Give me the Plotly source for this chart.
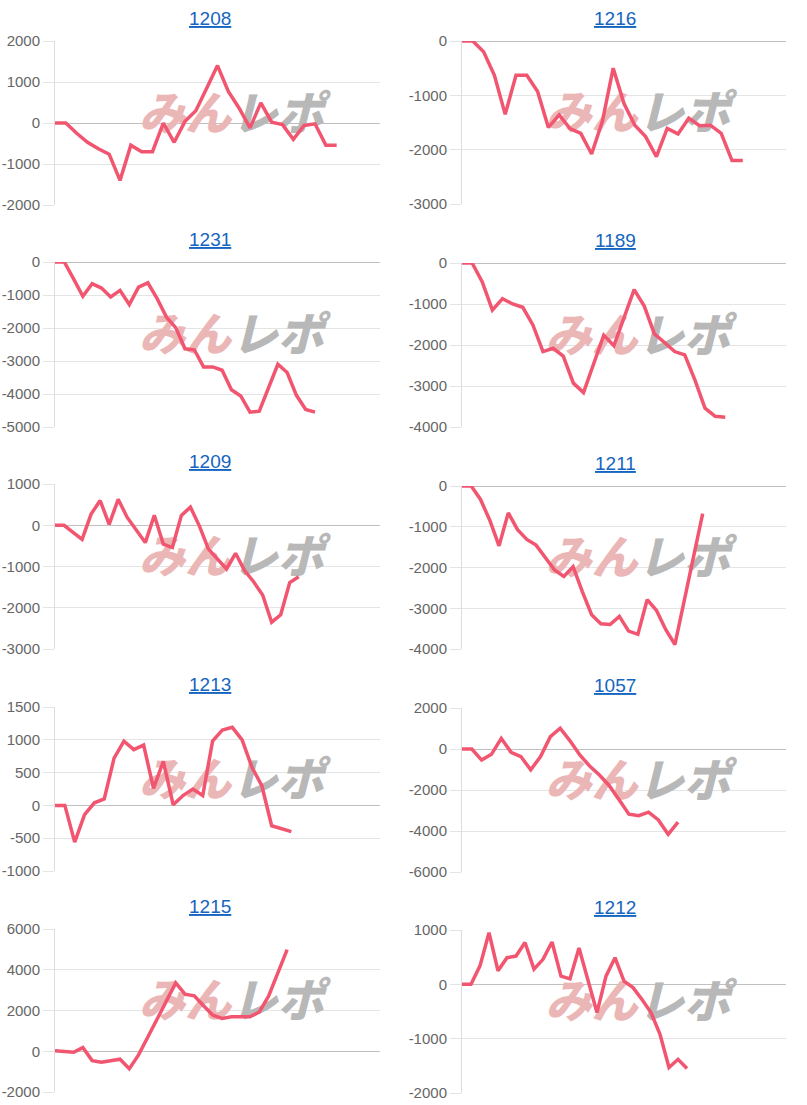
import plotly.graph_objects as go

# ---------------- data ----------------
titles = ["1208", "1216", "1231", "1189", "1209", "1211", "1213", "1057", "1215", "1212"]

s1208 = [0, 0, -250, -470, -630, -760, -1400, -540, -700, -700, 0, -470, 40, 300, 850, 1400,
         770, 360, -120, 490, 20, -40, -400, -60, -20, -540, -540]
s1216 = [0, 0, -200, -630, -1350, -630, -630, -930, -1590, -1360, -1610, -1700, -2080, -1480,
         -500, -1150, -1550, -1760, -2130, -1610, -1710, -1420, -1560, -1550, -1700, -2200, -2200]
s1231 = [0, 0, -510, -1040, -660, -790, -1060, -860, -1290, -760, -630, -1110, -1670, -1990,
         -2630, -2660, -3180, -3180, -3280, -3870, -4060, -4550, -4520, -3820, -3100, -3350,
         -4040, -4470, -4550]
s1189 = [0, 0, -460, -1150, -870, -1000, -1080, -1510, -2160, -2080, -2270, -2930, -3160, -2450,
         -1760, -2020, -1330, -650, -1050, -1730, -1940, -2160, -2240, -2850, -3540, -3740, -3760]
s1209 = [0, 0, -170, -340, 270, 600, 20, 630, 190, -100, -420, 240, -460, -540, 240, 440, -20,
         -580, -820, -1060, -680, -1100, -1370, -1690, -2350, -2170, -1390, -1250]
s1211 = [0, 0, -330, -840, -1470, -660, -1070, -1310, -1450, -1770, -2060, -2220, -1980, -2590,
         -3160, -3380, -3400, -3200, -3560, -3640, -2790, -3050, -3520, -3890, -2820, -1750, -680]
s1213 = [0, 0, -560, -140, 40, 100, 720, 980, 850, 920, 260, 670, 10, 150, 250, 150, 980, 1150,
         1190, 1000, 580, 300, -310, -350, -400]
s1057 = [0, 0, -540, -260, 520, -160, -370, -1020, -370, 600, 1010, 400, -290, -830, -1270,
         -1790, -2480, -3180, -3250, -3080, -3460, -4160, -3570]
s1215 = [30, 10, -50, 180, -460, -540, -470, -390, -860, -180, 700, 1590, 2470, 3350, 2800, 2720,
         2230, 1770, 1610, 1690, 1690, 1690, 1930, 2700, 3850, 4990]
s1212 = [0, 0, 340, 950, 250, 490, 520, 770, 280, 460, 780, 150, 100, 670, 75, -520, 150, 490,
         60, -60, -280, -520, -920, -1530, -1380, -1550]

series = [s1208, s1216, s1231, s1189, s1209, s1211, s1213, s1057, s1215, s1212]

# axis settings per panel: (ymin, ymax, dtick, number of x intervals)
y_min = [-2000, -3000, -5000, -4000, -3000, -4000, -1000, -6000, -2000, -2000]
y_max = [2000, 0, 0, 0, 1000, 0, 1500, 2000, 6000, 1000]
y_step = [1000, 1000, 1000, 1000, 1000, 1000, 500, 2000, 2000, 1000]
x_slots = [30, 30, 35, 32, 36, 35, 33, 33, 35, 36]

# ---------------- layout geometry (pixels) ----------------
W, H = 807, 1105
col_x = [(55, 380), (462, 786)]
panel_tb = [(41, 205), (41, 204), (262, 427), (263, 427), (484, 649), (486, 649),
            (707, 871), (708, 872), (929, 1092), (930, 1093)]
title_x = [210, 615]

LINE = "#f2556f"
GRID = "#e4e4e4"
ZERO = "#c0c0c0"
TICKFONT = dict(family="Arial, Liberation Sans, sans-serif", size=15, color="#666666")

fig = go.Figure()
layout = dict(
    width=W, height=H,
    margin=dict(l=0, r=0, t=0, b=0),
    paper_bgcolor="white", plot_bgcolor="white",
    showlegend=False,
    annotations=[],
)

for i, (name, vals) in enumerate(zip(titles, series)):
    col = i % 2
    top, bot = panel_tb[i]
    x0, x1 = col_x[col]
    ax = "" if i == 0 else str(i + 1)
    xa, ya = "x" + ax, "y" + ax
    n = x_slots[i]
    ymin, ymax = y_min[i], y_max[i]
    tv = list(range(ymin, ymax + 1, y_step[i]))

    layout["xaxis" + ax] = dict(
        domain=[x0 / W, x1 / W], range=[0, n], anchor=ya,
        showgrid=False, zeroline=False, showticklabels=False, showline=False,
        fixedrange=True,
    )
    layout["yaxis" + ax] = dict(
        domain=[1 - bot / H, 1 - top / H], range=[ymin, ymax], anchor=xa,
        tickmode="array", tickvals=tv, ticktext=[str(v) for v in tv],
        showgrid=True, gridcolor=GRID, gridwidth=1,
        zeroline=True, zerolinecolor=ZERO, zerolinewidth=1,
        showline=True, linecolor="#dddddd", linewidth=1,
        ticks="outside", ticklen=11, tickcolor=GRID, tickwidth=1,
        tickfont=TICKFONT, automargin=False, fixedrange=True,
    )

    # watermark (drawn under the line)
    wy = ymin + 0.53 * (ymax - ymin)
    fig.add_trace(go.Scatter(
        x=[0.40 * n], y=[wy], mode="text", text=["みん"], xaxis=xa, yaxis=ya,
        textfont=dict(family="Noto Sans CJK JP", size=46, color="#ebb6b6",
                      weight=900, style="italic"),
        hoverinfo="skip",
    ))
    fig.add_trace(go.Scatter(
        x=[0.685 * n], y=[wy], mode="text", text=["レポ"], xaxis=xa, yaxis=ya,
        textfont=dict(family="Noto Sans CJK JP", size=46, color="#b8b8b8",
                      weight=900, style="italic"),
        hoverinfo="skip",
    ))

    fig.add_trace(go.Scatter(
        x=list(range(len(vals))), y=vals, mode="lines", xaxis=xa, yaxis=ya,
        line=dict(color=LINE, width=3.5), name=name,
    ))

    layout["annotations"].append(dict(
        text="<u>%s</u>" % name, x=title_x[col] / W, y=1 - (top - 23) / H,
        xref="paper", yref="paper", xanchor="center", yanchor="middle",
        showarrow=False,
        font=dict(family="Arial, Liberation Sans, sans-serif", size=19, color="#1565c0"),
    ))

fig.update_layout(**layout)
fig.write_html("out.html")
